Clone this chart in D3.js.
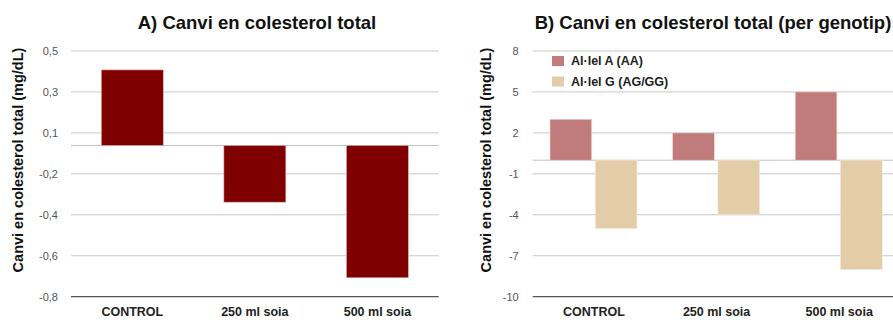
<!DOCTYPE html>
<html>
<head>
<meta charset="utf-8">
<script src="https://cdn.jsdelivr.net/npm/d3@7"></script>
<style>
  html, body { margin: 0; padding: 0; background: #fff; }
  svg { display: block; font-family: "Liberation Sans", Arial, Helvetica, sans-serif; }
</style>
</head>
<body>
<svg id="chart" width="893" height="320"></svg>
<script>
// ---- data ----
const categories = ["CONTROL", "250 ml soia", "500 ml soia"];
const totalChange = [0.4, -0.3, -0.7];
const seriesNames = ["Al·lel A (AA)", "Al·lel G (AG/GG)"];
const alleleA = [3, 2, 5];
const alleleG = [-5, -4, -8];
const ticksA = ["0,5", "0,3", "0,1", "-0,2", "-0,4", "-0,6", "-0,8"];
const ticksB = ["8", "5", "2", "-1", "-4", "-7", "-10"];
const titleA = "A) Canvi en colesterol total";
const titleB = "B) Canvi en colesterol total (per genotip)";
const yLabel = "Canvi en colesterol total (mg/dL)";

const svg = d3.select("#chart");
const colA = "#7f0000";
const colors = ["#c07b7b", "#e2cda8"];
const plotTop = 51, plotBottom = 296.7;

function panel(opts) {
  const g = svg.append("g");
  const x = d3.scaleBand().domain(categories).range([opts.x0, opts.x0 + opts.w]).paddingInner(0).paddingOuter(0);
  const y = d3.scaleLinear().domain([opts.min, opts.max]).range([plotBottom, plotTop]);
  const n = opts.tickLabels.length;
  const tickVals = d3.range(n).map(i => opts.max - i * (opts.max - opts.min) / (n - 1));

  // gridlines
  g.append("g").selectAll("line").data(tickVals.slice(0, -1)).join("line")
    .attr("x1", opts.x0).attr("x2", opts.x0 + opts.w)
    .attr("y1", d => y(d)).attr("y2", d => y(d))
    .attr("stroke", "#c8c8c8").attr("stroke-width", 1);
  // zero line
  g.append("line").attr("x1", opts.x0).attr("x2", opts.x0 + opts.w)
    .attr("y1", y(0)).attr("y2", y(0)).attr("stroke", "#c0c0c0").attr("stroke-width", 1);

  // y tick labels
  g.append("g").selectAll("text").data(tickVals).join("text")
    .attr("x", opts.x0 - opts.labelGap).attr("y", d => y(d)).attr("dy", "0.35em")
    .attr("text-anchor", "end").attr("font-size", 11).attr("fill", "#555")
    .text((d, i) => opts.tickLabels[i]);

  // y axis label
  g.append("text")
    .attr("transform", `translate(${opts.ylabX},160) rotate(-90)`)
    .attr("text-anchor", "middle").attr("font-size", 14.5).attr("font-weight", "bold").attr("fill", "#111")
    .text(yLabel);

  // title
  g.append("text").attr("x", opts.titleX).attr("y", 29).attr("text-anchor", "middle")
    .attr("font-size", 18.5).attr("font-weight", "bold").attr("fill", "#111").text(opts.title);

  // x labels
  g.append("g").selectAll("text").data(categories).join("text")
    .attr("x", d => x(d) + x.bandwidth() / 2).attr("y", 316)
    .attr("text-anchor", "middle").attr("font-size", 12.5).attr("font-weight", "bold").attr("fill", "#222")
    .text(d => d);

  return { g, x, y };
}

// Panel A
const pA = panel({ x0: 71, w: 367.7, min: -0.8, max: 0.5, tickLabels: ticksA,
  labelGap: 13, ylabX: 23, titleX: 257, title: titleA });
const xa = pA.x, ya = pA.y;
const barWA = 62;
pA.g.append("g").selectAll("rect").data(categories).join("rect")
  .attr("x", d => xa(d) + (xa.bandwidth() - barWA) / 2)
  .attr("width", barWA)
  .attr("y", (d, i) => ya(Math.max(0, totalChange[i])))
  .attr("height", (d, i) => Math.abs(ya(totalChange[i]) - ya(0)))
  .attr("fill", colA).attr("stroke", "#e8b8b8").attr("stroke-width", 0.6);
// bottom axis line A
pA.g.append("line").attr("x1", 71).attr("x2", 438.7).attr("y1", ya(-0.8)).attr("y2", ya(-0.8))
  .attr("stroke", "#555").attr("stroke-width", 1.2);

// Panel B
const pB = panel({ x0: 532.7, w: 367.8, min: -10, max: 8, tickLabels: ticksB,
  labelGap: 14, ylabX: 491, titleX: 713, title: titleB });
const xb = pB.x, yb = pB.y;
const x1 = d3.scaleBand().domain(seriesNames).range([0, 87]).paddingInner(0.08);
const gx0 = (xb.bandwidth() - 87) / 2 - 0.5;
const seriesVals = [alleleA, alleleG];
seriesNames.forEach((s, si) => {
  pB.g.append("g").selectAll("rect").data(categories).join("rect")
    .attr("x", d => xb(d) + gx0 + x1(s))
    .attr("width", x1.bandwidth())
    .attr("y", (d, i) => yb(Math.max(0, seriesVals[si][i])))
    .attr("height", (d, i) => Math.abs(yb(seriesVals[si][i]) - yb(0)))
    .attr("fill", colors[si]).attr("stroke", si === 0 ? "#f0d8d8" : "#f3e8d5").attr("stroke-width", 0.6);
});
pB.g.append("line").attr("x1", 532.7).attr("x2", 893).attr("y1", yb(-10)).attr("y2", yb(-10))
  .attr("stroke", "#555").attr("stroke-width", 1.2);

// legend
const leg = pB.g.append("g").selectAll("g").data(seriesNames).join("g")
  .attr("transform", (d, i) => `translate(552,${56 + i * 20.5})`);
leg.append("rect").attr("width", 12).attr("height", 10).attr("fill", (d, i) => colors[i]);
leg.append("text").attr("x", 19).attr("y", 5).attr("dy", "0.35em")
  .attr("font-size", 12.5).attr("font-weight", "bold").attr("fill", "#222").text(d => d);
</script>
</body>
</html>
